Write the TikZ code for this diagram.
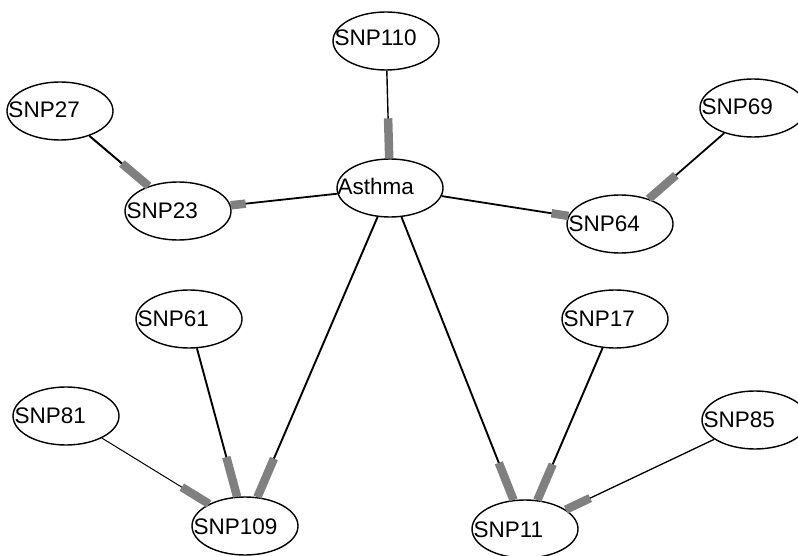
\documentclass[tikz,border=0pt]{standalone}
\usepackage{fontspec}
\setmainfont{Liberation Sans}
\usetikzlibrary{shapes.geometric,calc}
\tikzset{
 snp/.style={ellipse,draw=black,line width=1.4pt,minimum width=106pt,minimum height=58pt,inner sep=0pt},
 lbl/.style={anchor=base west,inner sep=0pt,font=\fontsize{22.5}{22.5}\selectfont},
 link/.style={draw=black,line width=1.6pt},
 bar/.style={draw=gray,line width=8.5pt},
}
\newcommand\snpedge[4]{%
 \draw[link,line width=#4] (#1) -- coordinate[pos=1] (#1to#2) (#2);
 \draw[bar] ($(#1to#2)!#3!(#1)$) -- (#1to#2);
}
\begin{document}
\begin{tikzpicture}[x=1pt,y=-1pt]
\useasboundingbox (0,0) rectangle (798,556);
% ellipses
\node[snp] (snp110) at (386,41) {};
\node[snp] (asthma) at (390,188) {};
\node[snp] (snp27) at (60,111) {};
\node[snp] (snp23) at (178,211) {};
\node[snp] (snp69) at (753,108) {};
\node[snp] (snp64) at (620,224) {};
\node[snp] (snp61) at (189,319) {};
\node[snp] (snp81) at (66,416) {};
\node[snp] (snp17) at (615,319) {};
\node[snp] (snp85) at (755,420) {};
\node[snp] (snp109) at (245,526) {};
\node[snp] (snp11) at (525,529) {};
% labels
\node[lbl] (l110) at ([xshift=2pt,yshift=-5pt]snp110.west) {SNP110};
\node[lbl] (lasthma) at ([xshift=1pt,yshift=-7pt]asthma.west) {Asthma};
\node[lbl] (l27) at ([xshift=2pt,yshift=-7pt]snp27.west) {SNP27};
\node[lbl] (l23) at ([xshift=2pt,yshift=-8pt]snp23.west) {SNP23};
\node[lbl] (l69) at ([xshift=2pt,yshift=-7pt]snp69.west) {SNP69};
\node[lbl] (l64) at ([xshift=2pt,yshift=-8pt]snp64.west) {SNP64};
\node[lbl] (l61) at ([xshift=2pt,yshift=-7pt]snp61.west) {SNP61};
\node[lbl] (l81) at ([xshift=2pt,yshift=-7pt]snp81.west) {SNP81};
\node[lbl] (l17) at ([xshift=2pt,yshift=-7pt]snp17.west) {SNP17};
\node[lbl] (l85) at ([xshift=2pt,yshift=-7pt]snp85.west) {SNP85};
\node[lbl] (l109) at ([xshift=2pt,yshift=-8pt]snp109.west) {SNP109};
\node[lbl] (l11) at ([xshift=2pt,yshift=-8pt]snp11.west) {SNP11};
% connectors
\snpedge{snp110}{asthma}{40pt}{1.4pt}
\snpedge{snp27}{snp23}{35pt}{2pt}
\snpedge{asthma}{snp23}{15pt}{1.8pt}
\snpedge{asthma}{snp64}{17pt}{1.8pt}
\snpedge{snp69}{snp64}{36pt}{1.8pt}
\snpedge{snp81}{snp109}{32pt}{1pt}
\snpedge{snp61}{snp109}{41pt}{1.9pt}
\snpedge{asthma}{snp109}{42pt}{1.9pt}
\snpedge{asthma}{snp11}{40pt}{1.9pt}
\snpedge{snp17}{snp11}{39pt}{1.9pt}
\snpedge{snp85}{snp11}{27pt}{1.3pt}
\end{tikzpicture}
\end{document}
